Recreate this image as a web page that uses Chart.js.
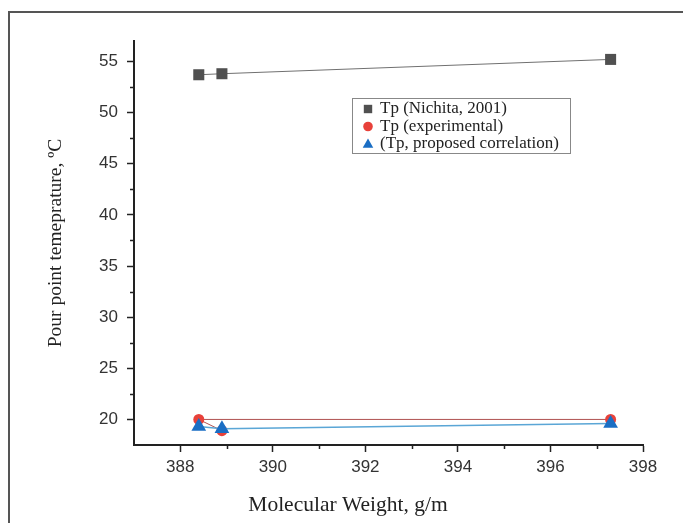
<!DOCTYPE html>
<html>
<head>
<meta charset="utf-8">
<script src="https://cdn.jsdelivr.net/npm/chart.js"></script>
<style>
  html, body { margin: 0; padding: 0; background: #fff; }
  canvas { display: block; }
</style>
</head>
<body>
<canvas id="pour-chart" width="683" height="523"></canvas>
<script>
  // values
  const mwNichita = [388.4, 388.9, 397.3];
  const tpNichita = [53.7, 53.8, 55.2];
  const mwExperimental = [388.9, 388.4, 397.3];
  const tpExperimental = [18.9, 20.0, 20.0];
  const mwCorrelation = [388.4, 388.9, 397.3];
  const tpCorrelation = [19.3, 19.1, 19.6];

  const xTicks = [388, 390, 392, 394, 396, 398];
  const xMinorTicks = [389, 391, 393, 395, 397];
  const yTicks = [20, 25, 30, 35, 40, 45, 50, 55];
  const yMinorTicks = [22.5, 27.5, 32.5, 37.5, 42.5, 47.5, 52.5];

  const seriesLabels = ['Tp (Nichita, 2001)', 'Tp (experimental)', '(Tp, proposed correlation)'];

  function pts(xs, ys) {
    return xs.map((x, i) => ({ x: x, y: ys[i] }));
  }

  function marker(ctx, style, x, y, r, color) {
    ctx.save();
    ctx.fillStyle = color;
    ctx.beginPath();
    if (style === 'rect') {
      ctx.rect(x - r, y - r, 2 * r, 2 * r);
    } else if (style === 'circle') {
      ctx.arc(x, y, r, 0, Math.PI * 2);
    } else {
      ctx.moveTo(x, y - r * 1.15);
      ctx.lineTo(x + r * 1.1, y + r * 0.8);
      ctx.lineTo(x - r * 1.1, y + r * 0.8);
      ctx.closePath();
    }
    ctx.fill();
    ctx.restore();
  }

  const extras = {
    id: 'extras',
    beforeDraw(chart) {
      const ctx = chart.ctx;
      ctx.save();
      ctx.strokeStyle = '#555';
      ctx.lineWidth = 2;
      ctx.strokeRect(9, 12, 720, 600);
      ctx.restore();
    },
    afterDraw(chart) {
      const ctx = chart.ctx;
      const xs = chart.scales.x, ys = chart.scales.y;
      ctx.save();
      ctx.strokeStyle = '#222';
      ctx.lineWidth = 1.5;
      ctx.beginPath();
      yMinorTicks.forEach(v => {
        const py = Math.round(ys.getPixelForValue(v)) + 0.5;
        ctx.moveTo(xs.left - 4, py);
        ctx.lineTo(xs.left, py);
      });
      xMinorTicks.forEach(v => {
        const px = Math.round(xs.getPixelForValue(v)) + 0.5;
        ctx.moveTo(px, ys.bottom);
        ctx.lineTo(px, ys.bottom + 4);
      });
      ctx.stroke();

      // x axis title
      ctx.fillStyle = '#222';
      ctx.font = '21.5px "Liberation Serif"';
      ctx.textAlign = 'center';
      ctx.textBaseline = 'middle';
      ctx.fillText('Molecular Weight, g/m', 348, 505);

      // legend
      const lx = 352, ly = 98, lw = 218, lh = 55;
      ctx.strokeStyle = '#888';
      ctx.lineWidth = 1;
      ctx.strokeRect(lx + 0.5, ly + 0.5, lw, lh);
      const styles = ['rect', 'circle', 'triangle'];
      const colors = ['#505050', '#e8413a', '#1a6ec4'];
      ctx.font = '17px "Liberation Serif"';
      ctx.textAlign = 'left';
      ctx.fillStyle = '#222';
      seriesLabels.forEach((lab, i) => {
        const cy = ly + 11 + i * 17.5;
        marker(ctx, styles[i], 368, cy, i === 0 ? 4.2 : 4.8, colors[i]);
        ctx.fillStyle = '#222';
        ctx.fillText(lab, 380, cy);
      });
      ctx.restore();
    }
  };

  new Chart(document.getElementById('pour-chart'), {
    type: 'scatter',
    data: {
      datasets: [
        {
          label: seriesLabels[0],
          data: pts(mwNichita, tpNichita),
          showLine: true,
          borderColor: '#707070',
          borderWidth: 1,
          backgroundColor: '#505050',
          pointStyle: 'rect',
          pointRadius: 7.8,
          pointBorderWidth: 0,
          order: 3
        },
        {
          label: seriesLabels[1],
          data: pts(mwExperimental, tpExperimental),
          showLine: true,
          borderColor: '#b0504f',
          borderWidth: 1,
          backgroundColor: '#e8413a',
          pointStyle: 'circle',
          pointRadius: 5.5,
          pointBorderWidth: 0,
          order: 2
        },
        {
          label: seriesLabels[2],
          data: pts(mwCorrelation, tpCorrelation),
          showLine: true,
          borderColor: '#5aa6d6',
          borderWidth: 1.5,
          backgroundColor: '#1a6ec4',
          pointStyle: 'triangle',
          pointRadius: 8.5,
          pointBorderWidth: 0,
          order: 1
        }
      ]
    },
    options: {
      responsive: false,
      animation: false,
      layout: { padding: { left: 0, top: 41, right: 40, bottom: 0 } },
      plugins: {
        legend: { display: false },
        tooltip: { enabled: false }
      },
      scales: {
        x: {
          type: 'linear',
          min: 387,
          max: 398,
          afterFit: s => { s.height = 78; },
          afterBuildTicks: s => { s.ticks = xTicks.map(v => ({ value: v })); },
          border: { color: '#222', width: 2 },
          grid: { drawOnChartArea: false, drawTicks: true, tickLength: 7, tickColor: '#222', tickWidth: 1.5 },
          ticks: { color: '#333', padding: 5, font: { family: '"Liberation Sans"', size: 17 } },
          title: { display: false }
        },
        y: {
          type: 'linear',
          min: 17.5,
          max: 57,
          afterFit: s => { s.width = 134; },
          afterBuildTicks: s => { s.ticks = yTicks.map(v => ({ value: v })); },
          border: { color: '#222', width: 2 },
          grid: { drawOnChartArea: false, drawTicks: true, tickLength: 7, tickColor: '#222', tickWidth: 1.5 },
          ticks: { color: '#333', padding: 9, font: { family: '"Liberation Sans"', size: 17 } },
          title: {
            display: true,
            text: 'Pour point temeprature, ºC',
            color: '#222',
            padding: { top: 44, bottom: 0 },
            font: { family: '"Liberation Serif"', size: 19.5, lineHeight: 1.2 }
          }
        }
      }
    },
    plugins: [extras]
  });
</script>
</body>
</html>
